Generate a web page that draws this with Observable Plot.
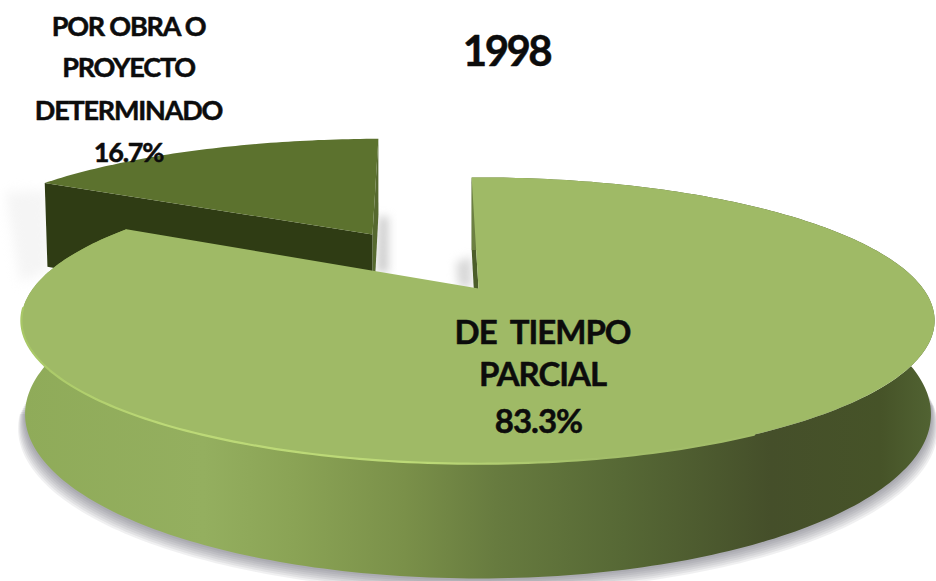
<!DOCTYPE html>
<html>
<head>
<meta charset="utf-8">
<script src="https://cdn.jsdelivr.net/npm/d3@7"></script>
<script src="https://cdn.jsdelivr.net/npm/@observablehq/plot@0.6"></script>
<style>html,body{margin:0;padding:0;background:#fff}svg{display:block}text{white-space:pre}</style>
</head>
<body>
<div id="chart"></div>
<script>
const categories = ["DE TIEMPO PARCIAL", "POR OBRA O PROYECTO DETERMINADO"];
const values = [83.3, 16.7];
const title = "1998";
const bigLines = ["DE  TIEMPO", "PARCIAL"];
const smallLines = ["POR OBRA O", "PROYECTO", "DETERMINADO"];

const W = 936, H = 581;
const total = d3.sum(values);
const startAngle = -1;
const bigEnd = startAngle + values[0] / total * 360;
const smallEnd = bigEnd + values[1] / total * 360;

const big = {cx: 477.5, cy: 288, ax: 478, ay: 288, rx: 445, ry: 136, k: 0.224, d: 89};
const small = {cx: 384, cy: 233, ax: 372, ay: 234, rx: 430, ry: 116, k: 0.224, d: 93};

function pt(s, deg, lower) {
  const t = deg * Math.PI / 180, u = Math.sin(t), v = Math.cos(t), w = 1 + s.k * v;
  const x = s.cx + s.rx * u / w, y = s.cy - s.ry * v / w;
  return lower ? {x: s.cx + (x - s.cx) * 0.992, y: y + s.d / w} : {x, y};
}
function arc(s, a, b, lower) {
  const n = Math.ceil(Math.abs(b - a));
  return d3.range(n + 1).map(i => pt(s, a + (b - a) * i / n, lower));
}
const apex = s => ({x: s.ax, y: s.ay});
const apexLow = s => ({x: s.ax, y: s.ay + s.d});

const bigFace = [apex(big), ...arc(big, startAngle, bigEnd)];
const bigWall = [...arc(big, startAngle, bigEnd), ...arc(big, bigEnd, startAngle, true)];
const bigCut = [pt(big, startAngle), pt(big, startAngle, true), apexLow(big), apex(big)];
const smallFace = [apex(small), ...arc(small, bigEnd - 360, smallEnd - 360)];
const smallCut = [pt(small, bigEnd - 360), apex(small), apexLow(small), pt(small, bigEnd - 360, true)];
const smallCut2 = [pt(small, smallEnd - 360), pt(small, smallEnd - 360, true), apexLow(small), apex(small)];
const rim = arc(big, 262, 150);
const shadowSteps = [14, 12, 10, 8, 6, 4, 2];
const shadowLayers = shadowSteps.map(dy => arc({...big, cy: big.cy + dy, rx: big.rx * (1 + dy * 0.0011)}, 262, 95, true));
const softShadowL = [{x: 5, y: 192}, {x: 46, y: 190}, {x: 50, y: 268}, {x: 20, y: 282}];
const softShadowR = [{x: 378, y: 216}, {x: 388, y: 216}, {x: 388, y: 272}, {x: 376, y: 272}];
const softShadowC = [{x: 456, y: 262}, {x: 471, y: 256}, {x: 471, y: 288}, {x: 458, y: 286}];

const wallStops = [[0, "#8fab59"], [0.2, "#94af5f"], [0.3, "#8aa355"], [0.42, "#7a9049"], [0.52, "#677b3f"], [0.66, "#566835"], [0.82, "#454f2a"], [0.94, "#465328"], [1, "#526433"]];
const rimStops = [[0, "#a8c766"], [0.25, "#bcd977"], [0.7, "#bcd977"], [1, "#a2bd69"]];

function grad(id, stops, x1, x2) {
  return `<linearGradient id="${id}" gradientUnits="userSpaceOnUse" x1="${x1}" x2="${x2}" y1="0" y2="0">` +
    stops.map(([o, c]) => `<stop offset="${o}" stop-color="${c}"/>`).join("") + `</linearGradient>`;
}
const defs = () => {
  const g = document.createElementNS("http://www.w3.org/2000/svg", "defs");
  g.innerHTML = grad("wallGrad", wallStops, 20, 935) + grad("rimGrad", rimStops, 20, 600);
  return g;
};
const poly = (pts, o) => Plot.line(pts, {x: "x", y: "y", stroke: "none", ...o});

const font = "Lato, Carlito, sans-serif";
const lbl = (text, x, y, size) => Plot.text([text], {
  x: () => x, y: () => y, text: d => d, fontSize: size, fontWeight: 700, fontFamily: font,
  fill: "#0c0c0c", stroke: "#0c0c0c", strokeWidth: 0.5, textAnchor: "middle", lineAnchor: "middle"
});

const plot = Plot.plot({
  width: W, height: H, margin: 0,
  style: {background: "#fff"},
  x: {type: "linear", domain: [0, W], range: [0, W], axis: null},
  y: {type: "linear", domain: [0, H], range: [0, H], axis: null},
  marks: [
    defs,
    poly(softShadowL, {fill: "#eeeeee", imageFilter: "blur(6px)", fillOpacity: 0.6}),
    poly(softShadowR, {fill: "#bbbbbb", imageFilter: "blur(4px)", fillOpacity: 0.7}),
    poly(softShadowC, {fill: "#c4c4c4", imageFilter: "blur(5px)", fillOpacity: 0.7}),
    poly(smallCut2, {fill: "#56692f"}),
    poly(smallCut, {fill: "#2f3c14"}),
    poly(smallFace, {fill: "#5c722e"}),
    ...shadowLayers.map(p => poly(p, {fill: "#5a5a62", fillOpacity: 0.09})),
    poly(bigCut, {fill: "#4c5e2a"}),
    poly(bigWall, {fill: "url(#wallGrad)"}),
    poly(bigFace, {fill: "#9fba66"}),
    Plot.line(rim, {x: "x", y: "y", stroke: "url(#rimGrad)", strokeWidth: 2.2, imageFilter: "blur(0.6px)"}),
    lbl(title, 506, 52, 42),
    ...smallLines.map((t, i) => lbl(t, 128, [27, 68, 111][i], 27)),
    lbl(d3.format(".1f")(values[1]) + "%", 128, 153, 27),
    ...bigLines.map((t, i) => lbl(t, 542, [333, 375][i], 33)),
    lbl(d3.format(".1f")(values[0]) + "%", 538, 422, 33)
  ]
});
const spacing = {27: "-1.2px", 33: "-1px", 42: "-2.5px"};
d3.select(plot).selectAll("text").each(function () {
  const s = this.parentNode.getAttribute("font-size");
  if (spacing[s]) this.style.letterSpacing = spacing[s];
});
document.getElementById("chart").appendChild(plot);
</script>
</body>
</html>
